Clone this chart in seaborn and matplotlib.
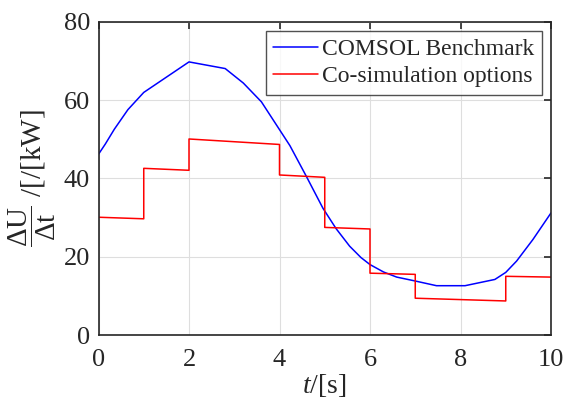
import numpy as np
import pandas as pd
import matplotlib
matplotlib.use("Agg")
import matplotlib.pyplot as plt
import seaborn as sns

# Data
bench_t = [0.0, 0.15, 0.35, 0.65, 1.0, 1.5, 2.0, 2.8, 3.2, 3.6, 4.23, 4.6, 4.96, 5.25,
           5.55, 5.8, 6.0, 6.3, 6.59, 7.0, 7.47, 8.1, 8.76, 9.0, 9.24, 9.6, 10.0]
bench_y = [46.2, 48.8, 52.6, 57.6, 62.0, 65.9, 69.8, 68.1, 64.4, 59.6, 48.4, 40.4, 32.4, 27.2,
           22.7, 19.8, 18.0, 16.1, 14.8, 13.8, 12.6, 12.6, 14.2, 16.0, 18.9, 24.4, 31.2]

cosim_t = [0, 1, 1, 2, 2, 4, 4, 5, 5, 6, 6, 7, 7, 9, 9, 10]
cosim_y = [30.1, 29.7, 42.6, 42.1, 50.1, 48.7, 40.9, 40.3, 27.5, 27.1, 15.8, 15.5, 9.4, 8.7, 15.0, 14.8]

x_ticks = [0, 2, 4, 6, 8, 10]
y_ticks = [0, 20, 40, 60, 80]

sns.set_style("white")
plt.rcParams['font.family'] = ['Liberation Serif', 'DejaVu Serif']
plt.rcParams['mathtext.fontset'] = 'custom'
plt.rcParams['mathtext.rm'] = 'Liberation Serif'
plt.rcParams['mathtext.it'] = 'Liberation Serif:italic'
plt.rcParams['mathtext.bf'] = 'Liberation Serif:bold'

W, H = 573, 408
fig = plt.figure(figsize=(W / 100, H / 100), dpi=100)
l, r, t, b = 98.5, 551, 22, 335
ax = fig.add_axes([l / W, 1 - b / H, (r - l) / W, (b - t) / H])

df_b = pd.DataFrame({"t": bench_t, "y": bench_y})
df_c = pd.DataFrame({"t": cosim_t, "y": cosim_y})

sns.lineplot(data=df_b, x="t", y="y", ax=ax, color="#0000ff", lw=1.1,
             label="COMSOL Benchmark", sort=False, estimator=None)
sns.lineplot(data=df_c, x="t", y="y", ax=ax, color="#ff0000", lw=1.1,
             label="Co-simulation options", sort=False, estimator=None)

ax.set_xlim(0, 10)
ax.set_ylim(0, 80)
ax.set_xticks(x_ticks)
ax.set_yticks(y_ticks)
ax.grid(True, color="#dedede", lw=0.8)
ax.set_axisbelow(True)
for s in ax.spines.values():
    s.set_color("#262626")
    s.set_linewidth(1.2)
ax.tick_params(direction="in", top=True, right=True, length=5, width=1.2,
               labelsize=19, colors="#262626")
ax.tick_params(axis="x", pad=10)
ax.tick_params(axis="y", pad=6)
ax.set_xlabel(r"$t/[\mathrm{s}]$", fontsize=20, color="#262626", labelpad=1)
ax.set_ylabel(r"$\dfrac{\Delta \mathrm{U}}{\Delta \mathrm{t}}$ /[/[kW]", fontsize=21,
              color="#262626", labelpad=4)

leg = ax.legend(loc="upper right", fontsize=17, frameon=True, fancybox=False,
                borderaxespad=0.4, handlelength=1.9, handletextpad=0.2,
                borderpad=0.3, labelspacing=0.25)
leg.get_frame().set_edgecolor("#262626")
leg.get_frame().set_linewidth(1.0)

fig.savefig("out.png", dpi=100)
